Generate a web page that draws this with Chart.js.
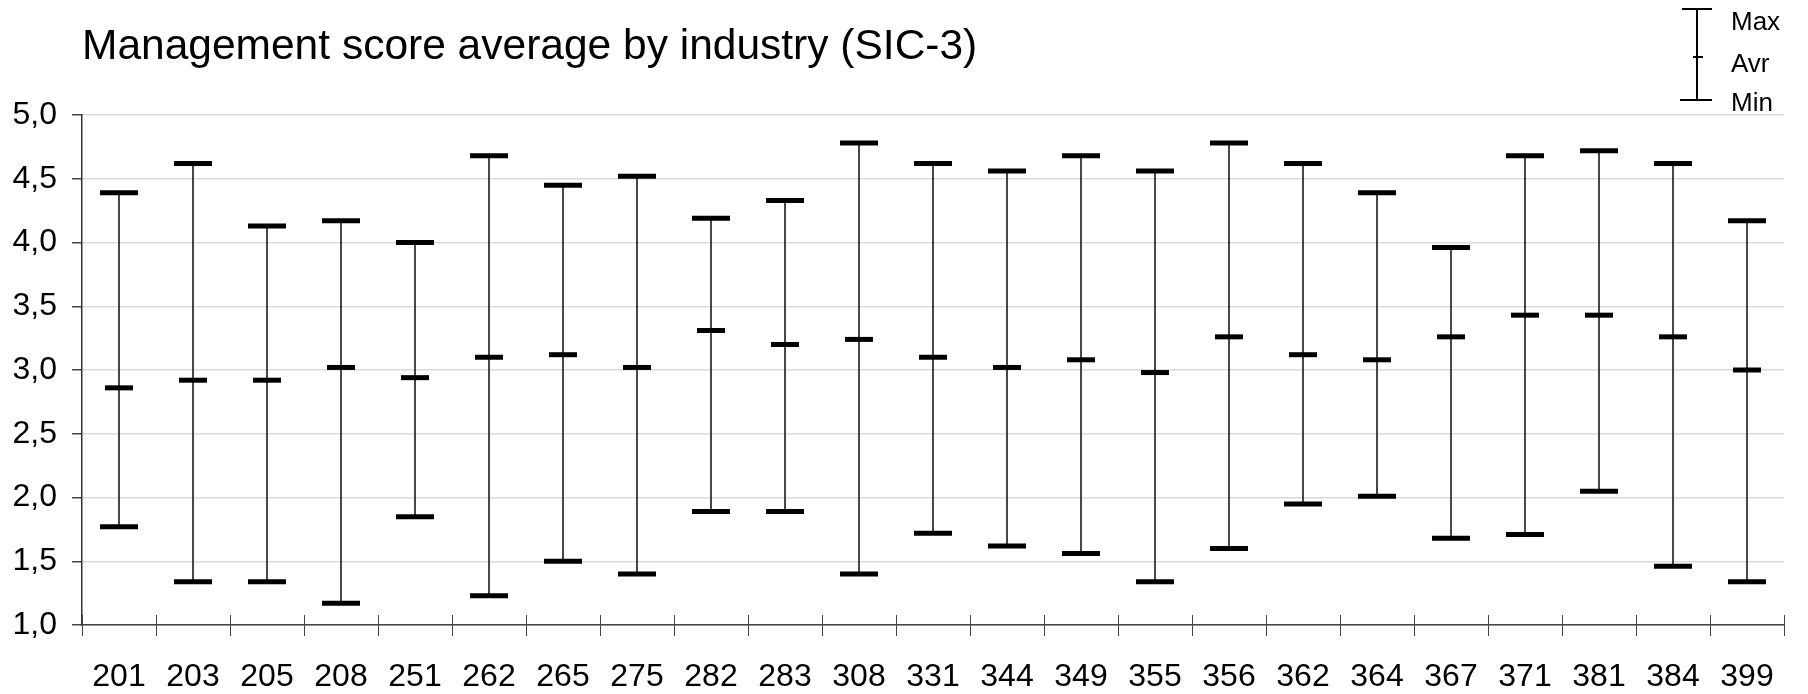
<!DOCTYPE html>
<html>
<head>
<meta charset="utf-8">
<script src="https://cdn.jsdelivr.net/npm/chart.js@4.4.1/dist/chart.umd.min.js"></script>
<style>
    body { margin: 0; background: #fff; font-family: 'Liberation Sans', Arial, sans-serif; }
    #wrap { position: relative; width: 1808px; height: 694px; }
    #title { position: absolute; left: 82px; top: 24px; font-size: 42.5px; line-height: 42.5px; color: #000; white-space: nowrap; }
    .lg { position: absolute; background: #000; }
    .lgText { position: absolute; left: 1731px; font-size: 26px; line-height: 26px; color: #000; }
</style>
</head>
<body>
<div id="wrap">
    <canvas id="chart"></canvas>
    <div id="title">Management score average by industry (SIC-3)</div>
    <div class="lg" style="left:1696px; top:9px; width:2px; height:92px;"></div>
    <div class="lg" style="left:1682px; top:8px; width:30px; height:2px;"></div>
    <div class="lg" style="left:1693px; top:56px; width:10px; height:2px;"></div>
    <div class="lg" style="left:1680px; top:99px; width:32px; height:2px;"></div>
    <div class="lgText" id="lgMax" style="top:8px;"></div>
    <div class="lgText" id="lgAvr" style="top:50px;"></div>
    <div class="lgText" id="lgMin" style="top:89px;"></div>
</div>
<script>
    const categories = ['201', '203', '205', '208', '251', '262', '265', '275', '282', '283', '308', '331',
        '344', '349', '355', '356', '362', '364', '367', '371', '381', '384', '399'];
    const maxVals = [4.39, 4.62, 4.13, 4.17, 4.00, 4.68, 4.45, 4.52, 4.19, 4.33, 4.78, 4.62,
        4.56, 4.68, 4.56, 4.78, 4.62, 4.39, 3.96, 4.68, 4.72, 4.62, 4.17];
    const avgVals = [2.86, 2.92, 2.92, 3.02, 2.94, 3.10, 3.12, 3.02, 3.31, 3.20, 3.24, 3.10,
        3.02, 3.08, 2.98, 3.26, 3.12, 3.08, 3.26, 3.43, 3.43, 3.26, 3.00];
    const minVals = [1.77, 1.34, 1.34, 1.17, 1.85, 1.23, 1.50, 1.40, 1.89, 1.89, 1.40, 1.72,
        1.62, 1.56, 1.34, 1.60, 1.95, 2.01, 1.68, 1.71, 2.05, 1.46, 1.34];
    const legendLabels = ['Max', 'Avr', 'Min'];
    const yMin = 1, yMax = 5, yStep = 0.5;

    document.getElementById('lgMax').textContent = legendLabels[0];
    document.getElementById('lgAvr').textContent = legendLabels[1];
    document.getElementById('lgMin').textContent = legendLabels[2];

    const FONT = "'Liberation Sans', Arial, sans-serif";

    // tick marks between categories, crossing the x axis line
    const xTickMarks = {
        id: 'xTickMarks',
        afterDraw(chart) {
            const x = chart.scales.x;
            const ctx = chart.ctx;
            const n = categories.length;
            ctx.save();
            ctx.strokeStyle = '#444';
            ctx.lineWidth = 1;
            ctx.beginPath();
            for (let i = 0; i <= n; i++) {
                const px = Math.round(x.left + i * x.width / n) + 0.5;
                ctx.moveTo(px, x.top - 10);
                ctx.lineTo(px, x.top + 11);
            }
            ctx.stroke();
            ctx.restore();
        }
    };

    function capSet(data, radius) {
        return {
            type: 'line',
            data,
            showLine: false,
            pointStyle: 'line',
            pointRadius: radius,
            pointHoverRadius: radius,
            pointBorderWidth: 5,
            pointHoverBorderWidth: 5,
            pointBorderColor: '#000',
            borderColor: '#000',
            order: 1
        };
    }

    new Chart(document.getElementById('chart'), {
        type: 'bar',
        data: {
            labels: categories,
            datasets: [
                {
                    data: categories.map((c, i) => [minVals[i], maxVals[i]]),
                    backgroundColor: '#222',
                    borderWidth: 0,
                    barThickness: 1,
                    order: 2
                },
                capSet(maxVals, 19),
                capSet(avgVals, 14),
                capSet(minVals, 19)
            ]
        },
        options: {
            responsive: true,
            maintainAspectRatio: false,
            animation: false,
            layout: { padding: { top: 115, right: 11, left: 0, bottom: 0 } },
            plugins: { legend: { display: false }, tooltip: { enabled: false }, title: { display: false } },
            scales: {
                x: {
                    offset: true,
                    grid: { display: true, drawOnChartArea: false, drawTicks: false },
                    border: { color: '#444', width: 1.5 },
                    ticks: { color: '#000', padding: 33, font: { size: 32, family: FONT } },
                    afterFit: s => { s.height = 69; }
                },
                y: {
                    min: yMin,
                    max: yMax,
                    grid: { color: '#d9d9d9', lineWidth: 1.5, tickColor: '#444', tickLength: 10 },
                    border: { color: '#333', width: 1.5 },
                    ticks: {
                        stepSize: yStep,
                        color: '#000',
                        padding: 15,
                        font: { size: 32, family: FONT },
                        callback: v => v.toFixed(1).replace('.', ',')
                    },
                    afterFit: s => { s.width = 82; }
                }
            }
        },
        plugins: [xTickMarks]
    });
</script>
</body>
</html>
